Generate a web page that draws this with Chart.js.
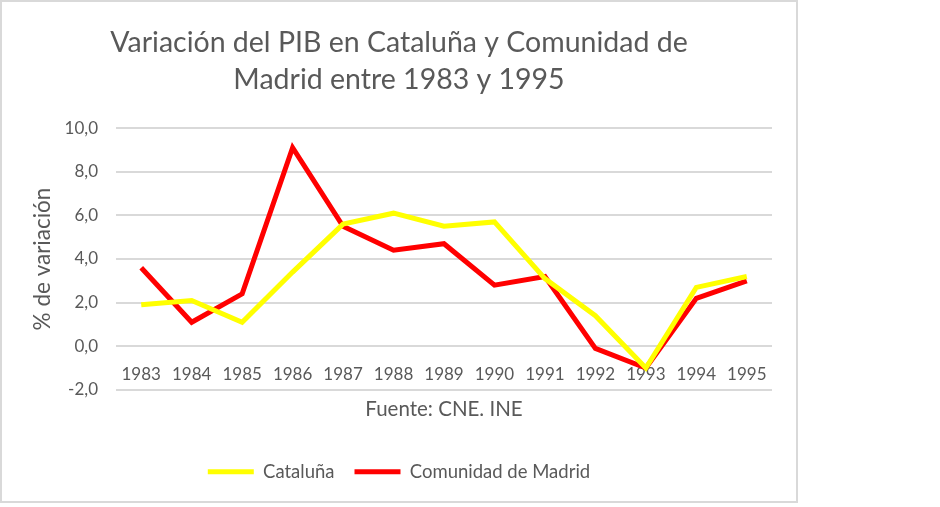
<!DOCTYPE html>
<html>
<head>
<meta charset="utf-8">
<script src="https://cdn.jsdelivr.net/npm/chart.js@4.4.1/dist/chart.umd.min.js"></script>
<style>
  body { margin: 0; background: #fff; width: 940px; height: 507px; overflow: hidden; }
  #box { position: absolute; left: 0; top: 0; width: 794px; height: 499px; border: 2px solid #d9d9d9; background: #fff; }
</style>
</head>
<body>
<div id="box"><canvas id="pibChart" width="794" height="499"></canvas></div>
<script>
// Datos
const years = ['1983', '1984', '1985', '1986', '1987', '1988', '1989', '1990', '1991', '1992', '1993', '1994', '1995'];
const cataluna = [1.9, 2.1, 1.1, 3.4, 5.6, 6.1, 5.5, 5.7, 3.1, 1.4, -1.0, 2.7, 3.2];
const madrid = [3.6, 1.1, 2.4, 9.1, 5.5, 4.4, 4.7, 2.8, 3.2, -0.1, -1.0, 2.2, 3.0];
const chartTitle = ['Variación del PIB en Cataluña y Comunidad de', 'Madrid entre 1983 y 1995'];
const yTitle = '% de variación';
const sourceText = 'Fuente: CNE. INE';

const textColor = '#595959';
const fontFamily = 'Lato, "Open Sans", sans-serif';
Chart.defaults.font.family = fontFamily;
Chart.defaults.color = textColor;

const ctx = document.getElementById('pibChart').getContext('2d');
const pibChart = new Chart(ctx, {
    type: 'line',
    data: {
        labels: years,
        datasets: [
            {
                label: 'Cataluña',
                data: cataluna,
                borderColor: '#ffff00',
                backgroundColor: '#ffff00',
                borderWidth: 5,
                pointRadius: 0,
                tension: 0
            },
            {
                label: 'Comunidad de Madrid',
                data: madrid,
                borderColor: '#ff0000',
                backgroundColor: '#ff0000',
                borderWidth: 5,
                pointRadius: 0,
                tension: 0
            }
        ]
    },
    options: {
        responsive: false,
        animation: false,
        layout: {
            padding: { left: 0, right: 0, top: 0, bottom: 10 }
        },
        plugins: {
            title: {
                display: true,
                text: chartTitle,
                color: textColor,
                font: { size: 28.5, weight: 'normal', lineHeight: 1.3 },
                padding: { top: 22.5, bottom: 29.5 }
            },
            legend: {
                position: 'bottom',
                labels: {
                    usePointStyle: true,
                    pointStyle: 'line',
                    pointStyleWidth: 46,
                    padding: 20,
                    color: textColor,
                    font: { size: 18.5 }
                }
            },
            tooltip: { enabled: false }
        },
        scales: {
            x: {
                position: { y: 0 },
                offset: true,
                grid: { display: false },
                border: { display: false },
                ticks: {
                    padding: 10,
                    color: textColor,
                    font: { size: 17 },
                    maxRotation: 0,
                    autoSkip: false
                }
            },
            x2: {
                type: 'category',
                position: 'bottom',
                labels: years,
                grid: { display: false, drawTicks: false },
                border: { display: false },
                ticks: { display: false },
                title: {
                    display: true,
                    text: sourceText,
                    color: textColor,
                    font: { size: 20.5 },
                    padding: { top: 7, bottom: 21 }
                }
            },
            y: {
                min: -2,
                max: 10,
                ticks: {
                    stepSize: 2,
                    padding: 18,
                    color: textColor,
                    font: { size: 17 },
                    callback: value => value.toFixed(1).replace('.', ',')
                },
                grid: { color: '#d9d9d9', lineWidth: 2, drawTicks: false },
                border: { display: false },
                title: {
                    display: true,
                    text: yTitle,
                    color: textColor,
                    font: { size: 22.5 },
                    padding: { top: 27.5, bottom: 0 }
                },
                afterFit: scale => { scale.width = 114; }
            },
            // empty right margin so title and legend stay centred on the box
            yRight: {
                type: 'linear',
                position: 'right',
                grid: { display: false, drawTicks: false },
                border: { display: false },
                ticks: { display: false },
                afterFit: scale => { scale.width = 24; }
            }
        }
    }
});
</script>
</body>
</html>
